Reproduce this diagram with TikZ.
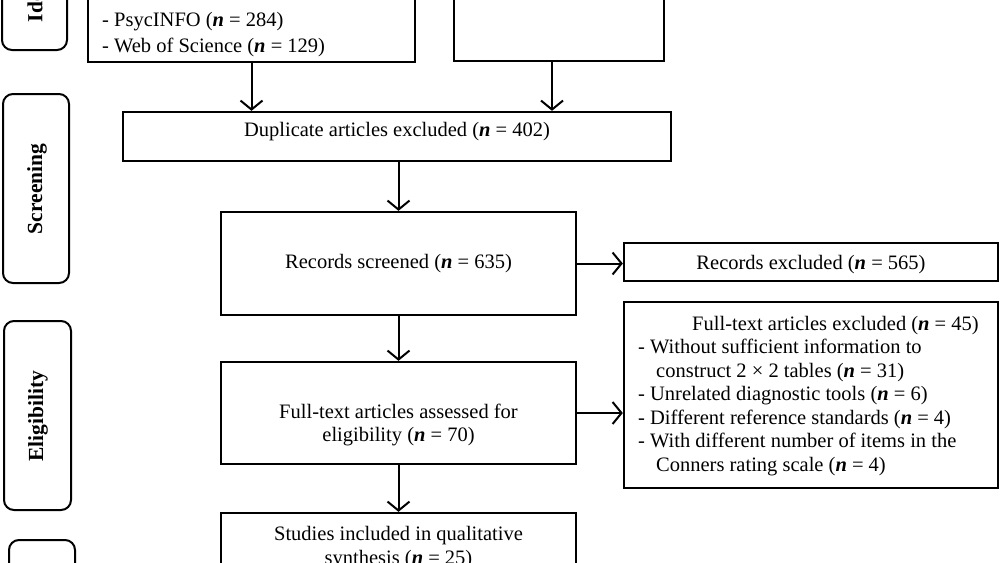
\documentclass[tikz,border=0pt]{standalone}
\usepackage{fontspec}
\setmainfont{Liberation Serif}
\usetikzlibrary{arrows.meta}
\newcommand{\nn}{\textbf{\textit{n}}}
\begin{document}
\begin{tikzpicture}[x=1pt,y=-1pt,
  box/.style={draw, line width=2.3pt, inner sep=0pt},
  stage/.style={draw, line width=2pt, rounded corners=10pt, inner sep=0pt},
  stagelabel/.style={inner sep=0pt, rotate=90, font=\fontsize{21.5}{24}\selectfont\bfseries},
  txt/.style={inner sep=0pt, font=\fontsize{20.5}{23.5}\selectfont},
  arr/.style={line width=2pt, -{Straight Barb[length=9pt,width=22pt]}}]
\useasboundingbox (0,0) rectangle (1000,562);
\clip (0,0) rectangle (1000,562);
% stage boxes
\node[stage, minimum width=65pt, minimum height=180pt] (id) at (34.5,-40) {};
\node[stagelabel] (idl) at (35,-40) {Identification};
\node[stage, minimum width=66pt, minimum height=189pt] (sc) at (36,188.5) {};
\node[stagelabel] (scl) at (37,189) {Screening};
\node[stage, minimum width=67pt, minimum height=189pt] (el) at (37.5,415.5) {};
\node[stagelabel] (ell) at (38,416) {Eligibility};
\node[stage, minimum width=66pt, minimum height=189pt] (inc) at (42,634.5) {};
% main boxes
\node[box, minimum width=327pt, minimum height=92pt] (tl) at (251.5,16) {};
\node[txt, anchor=base west] (tl1) at (102,27) {- PsycINFO (\nn{} = 284)};
\node[txt, anchor=base west] (tl2) at (102,52) {- Web of Science (\nn{} = 129)};
\node[box, minimum width=210pt, minimum height=91pt] (tr) at (559,15.5) {};
\node[box, minimum width=548pt, minimum height=49pt] (dup) at (397,136.5) {};
\node[txt, anchor=base] (dupt) at (397,136) {Duplicate articles excluded (\nn{} = 402)};
\node[box, minimum width=355pt, minimum height=103pt] (rs) at (398.5,263.5) {};
\node[txt, anchor=base] (rst) at (398.5,268) {Records screened (\nn{} = 635)};
\node[box, minimum width=374pt, minimum height=38pt] (re) at (811,262) {};
\node[txt, anchor=base] (ret) at (811,269) {Records excluded (\nn{} = 565)};
\node[box, minimum width=355pt, minimum height=102pt] (fa) at (398.5,413) {};
\node[txt, anchor=base] (fat1) at (398.5,418) {Full-text articles assessed for};
\node[txt, anchor=base] (fat2) at (398.5,441.5) {eligibility (\nn{} = 70)};
\node[box, minimum width=374pt, minimum height=186pt] (fe) at (811,395) {};
\node[txt, anchor=base west] (fe1) at (692,330) {Full-text articles excluded (\nn{} = 45)};
\node[txt, anchor=base west] (fe2) at (638,353.5) {- Without sufficient information to};
\node[txt, anchor=base west] (fe3) at (656,377) {construct 2 × 2 tables (\nn{} = 31)};
\node[txt, anchor=base west] (fe4) at (638,400.5) {- Unrelated diagnostic tools (\nn{} = 6)};
\node[txt, anchor=base west] (fe5) at (638,424) {- Different reference standards (\nn{} = 4)};
\node[txt, anchor=base west] (fe6) at (638,447.5) {- With different number of items in the};
\node[txt, anchor=base west] (fe7) at (656,471) {Conners rating scale (\nn{} = 4)};
\node[box, minimum width=355pt, minimum height=106pt] (st) at (398.5,566) {};
\node[txt, anchor=base] (stt1) at (398.5,540) {Studies included in qualitative};
\node[txt, anchor=base] (stt2) at (398.5,564) {synthesis (\nn{} = 25)};
% arrows
\draw[arr] (tl.south) -- (tl.south |- dup.north);
\draw[arr] ([xshift=-7pt]tr.south) -- ([xshift=-7pt]tr.south |- dup.north);
\draw[arr] (dup.south -| rs.north) -- (rs.north);
\draw[arr] (rs.east) -- (rs.east -| re.west);
\draw[arr] (rs.south) -- (fa.north);
\draw[arr] (fa.east) -- (fa.east -| fe.west);
\draw[arr] (fa.south) -- (st.north);
\end{tikzpicture}
\end{document}
